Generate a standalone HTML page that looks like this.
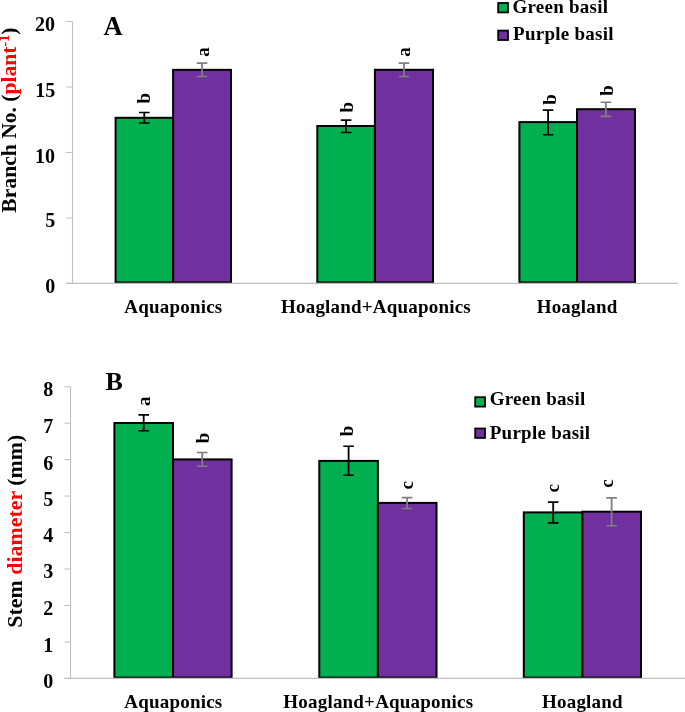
<!DOCTYPE html><html><head><meta charset="utf-8"><style>html,body{margin:0;padding:0;background:#fff;}svg{display:block;will-change:transform;}text{font-family:"Liberation Serif",serif;font-weight:bold;fill:#000;}</style></head><body>
<svg width="685" height="712" viewBox="0 0 685 712">
<path d="M72.5 21.5V283.4" stroke="#bfbfbf" stroke-width="1.1" fill="none"/>
<path d="M66 283.40H72.5" stroke="#bfbfbf" stroke-width="1" fill="none"/>
<path d="M66 217.92H72.5" stroke="#bfbfbf" stroke-width="1" fill="none"/>
<path d="M66 152.45H72.5" stroke="#bfbfbf" stroke-width="1" fill="none"/>
<path d="M66 86.97H72.5" stroke="#bfbfbf" stroke-width="1" fill="none"/>
<path d="M66 21.50H72.5" stroke="#bfbfbf" stroke-width="1" fill="none"/>
<rect x="115.60" y="117.80" width="57.50" height="164.60" fill="#00b050" stroke="#000" stroke-width="2"/>
<rect x="173.10" y="69.85" width="57.90" height="212.55" fill="#7030a0" stroke="#000" stroke-width="2"/>
<rect x="317.30" y="126.00" width="57.60" height="156.40" fill="#00b050" stroke="#000" stroke-width="2"/>
<rect x="374.90" y="69.80" width="58.10" height="212.60" fill="#7030a0" stroke="#000" stroke-width="2"/>
<rect x="519.40" y="122.10" width="57.60" height="160.30" fill="#00b050" stroke="#000" stroke-width="2"/>
<rect x="577.00" y="109.20" width="58.00" height="173.20" fill="#7030a0" stroke="#000" stroke-width="2"/>
<path d="M66 283.4H678" stroke="#bfbfbf" stroke-width="1.1" fill="none"/>
<path d="M144.30 112.50V123.00" stroke="#000000" stroke-width="1.8" fill="none"/>
<path d="M139.00 112.50H149.60M139.00 123.00H149.60" stroke="#000000" stroke-width="1.6" fill="none"/>
<path d="M202.00 63.10V76.50" stroke="#7f7f7f" stroke-width="1.8" fill="none"/>
<path d="M196.70 63.10H207.30M196.70 76.50H207.30" stroke="#7f7f7f" stroke-width="1.6" fill="none"/>
<path d="M346.10 120.10V132.50" stroke="#000000" stroke-width="1.8" fill="none"/>
<path d="M340.80 120.10H351.40M340.80 132.50H351.40" stroke="#000000" stroke-width="1.6" fill="none"/>
<path d="M404.00 63.10V76.50" stroke="#7f7f7f" stroke-width="1.8" fill="none"/>
<path d="M398.70 63.10H409.30M398.70 76.50H409.30" stroke="#7f7f7f" stroke-width="1.6" fill="none"/>
<path d="M548.10 110.10V134.80" stroke="#000000" stroke-width="1.8" fill="none"/>
<path d="M542.80 110.10H553.40M542.80 134.80H553.40" stroke="#000000" stroke-width="1.6" fill="none"/>
<path d="M605.90 102.30V116.40" stroke="#7f7f7f" stroke-width="1.8" fill="none"/>
<path d="M600.60 102.30H611.20M600.60 116.40H611.20" stroke="#7f7f7f" stroke-width="1.6" fill="none"/>
<text x="55.30" y="293.30" text-anchor="end" font-size="20">0</text>
<text x="55.20" y="227.40" text-anchor="end" font-size="20">5</text>
<text x="55.00" y="162.50" text-anchor="end" font-size="20">10</text>
<text x="55.20" y="96.60" text-anchor="end" font-size="20">15</text>
<text x="55.10" y="30.70" text-anchor="end" font-size="20">20</text>
<text transform="translate(150.25,98.30) rotate(-90)" text-anchor="middle" font-size="19">b</text>
<text transform="translate(208.50,51.90) rotate(-90)" text-anchor="middle" font-size="19">a</text>
<text transform="translate(352.80,107.10) rotate(-90)" text-anchor="middle" font-size="19">b</text>
<text transform="translate(410.10,52.10) rotate(-90)" text-anchor="middle" font-size="19">a</text>
<text transform="translate(556.00,99.40) rotate(-90)" text-anchor="middle" font-size="19">b</text>
<text transform="translate(612.55,90.40) rotate(-90)" text-anchor="middle" font-size="19">b</text>
<text transform="translate(150.30,401.30) rotate(-90)" text-anchor="middle" font-size="19">a</text>
<text transform="translate(208.68,438.00) rotate(-90)" text-anchor="middle" font-size="19">b</text>
<text transform="translate(352.90,431.00) rotate(-90)" text-anchor="middle" font-size="19">b</text>
<text transform="translate(413.15,485.40) rotate(-90)" text-anchor="middle" font-size="19">c</text>
<text transform="translate(559.27,488.30) rotate(-90)" text-anchor="middle" font-size="19">c</text>
<text transform="translate(612.95,483.50) rotate(-90)" text-anchor="middle" font-size="19">c</text>
<text x="173.40" y="312.50" text-anchor="middle" font-size="19" letter-spacing="0.2">Aquaponics</text>
<text x="376.00" y="312.50" text-anchor="middle" font-size="19" letter-spacing="0.2">Hoagland+Aquaponics</text>
<text x="577.10" y="312.50" text-anchor="middle" font-size="19" letter-spacing="0.2">Hoagland</text>
<text x="173.40" y="707.60" text-anchor="middle" font-size="19" letter-spacing="0.2">Aquaponics</text>
<text x="378.30" y="707.60" text-anchor="middle" font-size="19" letter-spacing="0.2">Hoagland+Aquaponics</text>
<text x="582.40" y="707.60" text-anchor="middle" font-size="19" letter-spacing="0.2">Hoagland</text>
<path d="M70.5 386.7V678.4" stroke="#bfbfbf" stroke-width="1.1" fill="none"/>
<path d="M64.4 678.40H70.5" stroke="#bfbfbf" stroke-width="1" fill="none"/>
<path d="M64.4 641.94H70.5" stroke="#bfbfbf" stroke-width="1" fill="none"/>
<path d="M64.4 605.48H70.5" stroke="#bfbfbf" stroke-width="1" fill="none"/>
<path d="M64.4 569.01H70.5" stroke="#bfbfbf" stroke-width="1" fill="none"/>
<path d="M64.4 532.55H70.5" stroke="#bfbfbf" stroke-width="1" fill="none"/>
<path d="M64.4 496.09H70.5" stroke="#bfbfbf" stroke-width="1" fill="none"/>
<path d="M64.4 459.62H70.5" stroke="#bfbfbf" stroke-width="1" fill="none"/>
<path d="M64.4 423.16H70.5" stroke="#bfbfbf" stroke-width="1" fill="none"/>
<path d="M64.4 386.70H70.5" stroke="#bfbfbf" stroke-width="1" fill="none"/>
<rect x="114.40" y="423.00" width="58.60" height="254.60" fill="#00b050" stroke="#000" stroke-width="2"/>
<rect x="173.00" y="459.40" width="58.60" height="218.20" fill="#7030a0" stroke="#000" stroke-width="2"/>
<rect x="319.30" y="460.90" width="58.60" height="216.70" fill="#00b050" stroke="#000" stroke-width="2"/>
<rect x="377.90" y="502.90" width="58.60" height="174.70" fill="#7030a0" stroke="#000" stroke-width="2"/>
<rect x="523.80" y="512.40" width="58.60" height="165.20" fill="#00b050" stroke="#000" stroke-width="2"/>
<rect x="582.40" y="511.70" width="58.60" height="165.90" fill="#7030a0" stroke="#000" stroke-width="2"/>
<path d="M64.4 678.4H685" stroke="#bfbfbf" stroke-width="1.1" fill="none"/>
<path d="M143.70 414.90V430.80" stroke="#000000" stroke-width="1.8" fill="none"/>
<path d="M138.40 414.90H149.00M138.40 430.80H149.00" stroke="#000000" stroke-width="1.6" fill="none"/>
<path d="M202.20 452.50V466.20" stroke="#7f7f7f" stroke-width="1.8" fill="none"/>
<path d="M196.90 452.50H207.50M196.90 466.20H207.50" stroke="#7f7f7f" stroke-width="1.6" fill="none"/>
<path d="M348.60 446.20V475.30" stroke="#000000" stroke-width="1.8" fill="none"/>
<path d="M343.30 446.20H353.90M343.30 475.30H353.90" stroke="#000000" stroke-width="1.6" fill="none"/>
<path d="M407.10 497.60V508.55" stroke="#7f7f7f" stroke-width="1.8" fill="none"/>
<path d="M401.80 497.60H412.40M401.80 508.55H412.40" stroke="#7f7f7f" stroke-width="1.6" fill="none"/>
<path d="M553.20 502.10V522.90" stroke="#000000" stroke-width="1.8" fill="none"/>
<path d="M547.90 502.10H558.50M547.90 522.90H558.50" stroke="#000000" stroke-width="1.6" fill="none"/>
<path d="M611.60 497.85V525.70" stroke="#7f7f7f" stroke-width="1.8" fill="none"/>
<path d="M606.30 497.85H616.90M606.30 525.70H616.90" stroke="#7f7f7f" stroke-width="1.6" fill="none"/>
<text x="53.30" y="687.80" text-anchor="end" font-size="20">0</text>
<text x="53.30" y="651.95" text-anchor="end" font-size="20">1</text>
<text x="53.30" y="615.10" text-anchor="end" font-size="20">2</text>
<text x="53.30" y="578.25" text-anchor="end" font-size="20">3</text>
<text x="53.30" y="542.40" text-anchor="end" font-size="20">4</text>
<text x="53.30" y="505.55" text-anchor="end" font-size="20">5</text>
<text x="53.30" y="469.70" text-anchor="end" font-size="20">6</text>
<text x="53.30" y="432.85" text-anchor="end" font-size="20">7</text>
<text x="53.30" y="396.00" text-anchor="end" font-size="20">8</text>
<text x="103.40" y="35.30" text-anchor="start" font-size="26.6">A</text>
<text x="105.60" y="389.95" text-anchor="start" font-size="26">B</text>
<rect x="498.2" y="3.0" width="9.8" height="9.4" fill="#00b050" stroke="#000" stroke-width="1.8"/>
<rect x="498.2" y="30.6" width="9.8" height="9.4" fill="#7030a0" stroke="#000" stroke-width="1.8"/>
<rect x="475.2" y="397.2" width="9.8" height="9.4" fill="#00b050" stroke="#000" stroke-width="1.8"/>
<rect x="475.2" y="428.5" width="9.8" height="9.4" fill="#7030a0" stroke="#000" stroke-width="1.8"/>
<text x="512.40" y="12.80" text-anchor="start" font-size="19" letter-spacing="0.25">Green basil</text>
<text x="513.05" y="40.40" text-anchor="start" font-size="19" letter-spacing="0.25">Purple basil</text>
<text x="489.65" y="405.40" text-anchor="start" font-size="19" letter-spacing="0.25">Green basil</text>
<text x="489.75" y="438.50" text-anchor="start" font-size="19" letter-spacing="0.25">Purple basil</text>
<text transform="translate(16.00,120.10) rotate(-90)" text-anchor="middle" font-size="21.6">Branch No. (<tspan fill="#ff0000">plant<tspan dy="-7" font-size="14">-1</tspan></tspan><tspan dy="7">)</tspan></text>
<text transform="translate(21.80,531.20) rotate(-90)" text-anchor="middle" font-size="21.9">Stem <tspan fill="#ff0000">diameter</tspan> (mm)</text>
</svg></body></html>
